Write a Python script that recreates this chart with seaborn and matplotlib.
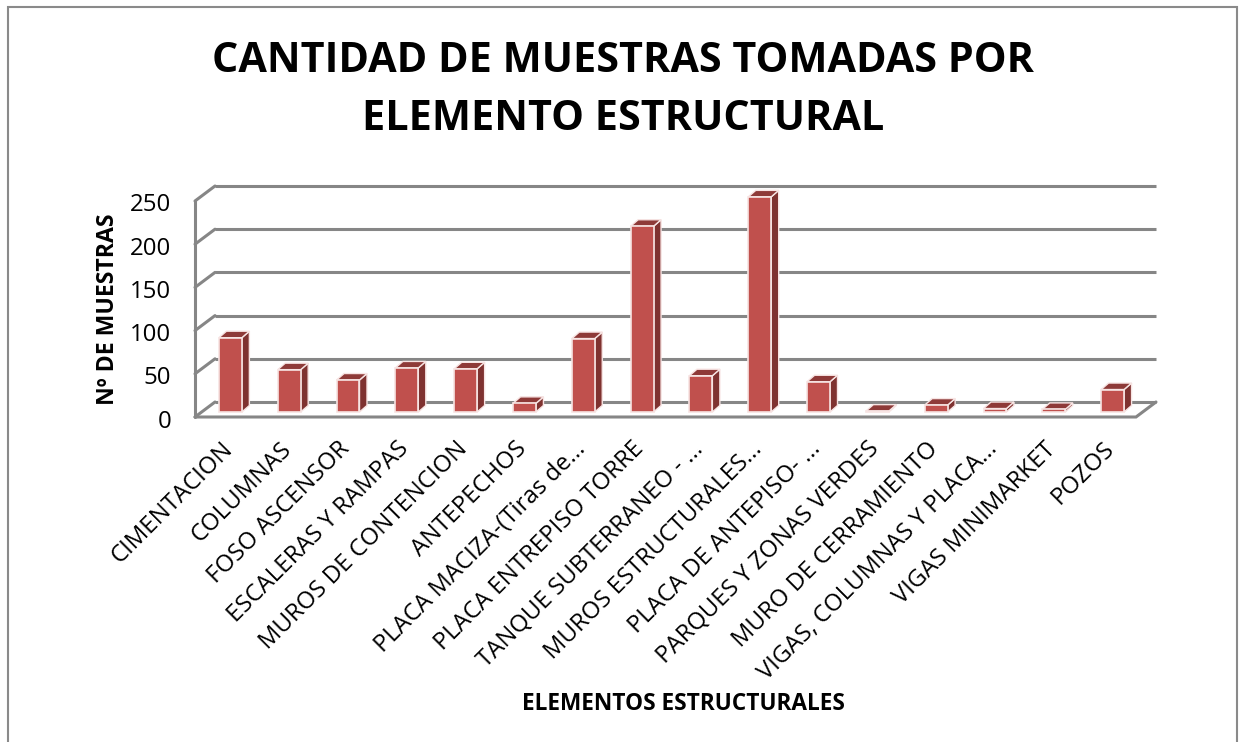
import pandas as pd
import seaborn as sns
import matplotlib.pyplot as plt
from matplotlib.patches import Polygon, Rectangle
from matplotlib.transforms import Affine2D

elementos = ['CIMENTACION', 'COLUMNAS', 'FOSO ASCENSOR', 'ESCALERAS Y RAMPAS',
             'MUROS DE CONTENCION', 'ANTEPECHOS', 'PLACA MACIZA-(Tiras de...',
             'PLACA ENTREPISO TORRE', 'TANQUE SUBTERRANEO - ...',
             'MUROS ESTRUCTURALES...', 'PLACA DE ANTEPISO- ...',
             'PARQUES Y ZONAS VERDES', 'MURO DE CERRAMIENTO',
             'VIGAS, COLUMNAS Y PLACA...', 'VIGAS MINIMARKET', 'POZOS']
muestras = [86, 49, 37, 51, 50, 10, 85, 215, 42, 249, 35, 1, 8, 4, 3, 26]
ticks_y = [0, 50, 100, 150, 200, 250]

df = pd.DataFrame({'elemento': elementos, 'muestras': muestras})

sns.set_style('white')
plt.rcParams['font.family'] = ['Open Sans', 'DejaVu Sans']
plt.rcParams['text.color'] = 'black'
plt.rcParams['xtick.color'] = 'black'
plt.rcParams['ytick.color'] = 'black'

W, H = 1239, 742
fig = plt.figure(figsize=(W / 100, H / 100), dpi=100)
# caja del area frontal en pixeles: x 195-1136, y 201-417
ax = fig.add_axes([195 / W, 1 - 417 / H, 941 / W, 216 / H])

sns.barplot(data=df, x='elemento', y='muestras', color='#C0504D', width=0.39,
            saturation=1, edgecolor='#F7E4E3', linewidth=1.2, ax=ax, zorder=5)
ax.set_xlim(-0.5, len(elementos) - 0.5)
ax.set_ylim(0, 250)
sns.despine(ax=ax, left=True, bottom=True, top=True, right=True)

# offsets 3D en pixeles
fondo = Affine2D().translate(20, 15)
barra = Affine2D().translate(6, 5)
gris = '#868686'

x0, x1 = ax.get_xlim()
for t in ticks_y:
    ax.plot([x0, x1], [t, t], color=gris, lw=2.2, clip_on=False, zorder=2,
            transform=ax.transData + fondo, solid_capstyle='butt')
    # diagonal de la pared izquierda
    a = ax.transData.transform((x0, t))
    ax.plot([a[0], a[0] + 20], [a[1], a[1] + 15], color=gris, lw=2.2,
            transform=None, clip_on=False, zorder=2)

izq = ax.transData.transform((x0, 0))
der = ax.transData.transform((x1, 0))
arriba = ax.transData.transform((x0, 250))
ax.plot([izq[0], arriba[0]], [izq[1], arriba[1]], color=gris, lw=2.2, transform=None,
        clip_on=False, zorder=3)
ax.plot([izq[0], der[0], der[0] + 20], [izq[1], der[1], der[1] + 15], color=gris, lw=2.2,
        transform=None, clip_on=False, zorder=3, solid_joinstyle='miter')

# caras laterales y superiores a partir de cada barra dibujada
dx, dy = 7.5, 6.5
for p in list(ax.patches):
    xa, ya = p.get_x(), p.get_y()
    xb, yb = xa + p.get_width(), ya + p.get_height()
    p.set_transform(ax.transData + barra)
    p.set_clip_on(False)
    (ax_, ay_), (bx_, by_) = (ax.transData + barra).transform([(xa, ya), (xb, yb)])
    lado = Polygon([(bx_, ay_), (bx_ + dx, ay_ + dy), (bx_ + dx, by_ + dy), (bx_, by_)],
                   closed=True, transform=None, facecolor='#7F3230', edgecolor='#F7E4E3',
                   lw=1, zorder=4, clip_on=False)
    tapa = Polygon([(ax_, by_), (ax_ + dx, by_ + dy), (bx_ + dx, by_ + dy), (bx_, by_)],
                   closed=True, transform=None, facecolor='#8E3A38', edgecolor='#F7E4E3',
                   lw=1, zorder=4, clip_on=False)
    ax.add_artist(lado)
    ax.add_artist(tapa)

ax.set_yticks(ticks_y)
ax.set_yticklabels([str(t) for t in ticks_y], fontsize=17.3)
ax.tick_params(axis='y', length=0, pad=17)
ax.set_xticks(range(len(elementos)))
ax.set_xticklabels(elementos, rotation=45, ha='right', rotation_mode='anchor', fontsize=17.2)
ax.tick_params(axis='x', length=0, pad=16)
ax.set_xlabel('')
ax.set_ylabel('')

# pequeños ajustes de las etiquetas en pixeles
for lab in ax.get_xticklabels():
    lab.set_transform(lab.get_transform() + Affine2D().translate(-4, 2))
for lab in ax.get_yticklabels():
    lab.set_transform(lab.get_transform() + Affine2D().translate(0, -1.5))

fig.text(623 / W, 1 - 62 / H, 'CANTIDAD DE MUESTRAS TOMADAS POR', ha='center', va='center',
         fontsize=29.8, fontweight='bold')
fig.text(623 / W, 1 - 119 / H, 'ELEMENTO ESTRUCTURAL', ha='center', va='center',
         fontsize=29.8, fontweight='bold')
fig.text(108 / W, 1 - 309 / H, 'Nº DE MUESTRAS', rotation=90, ha='center', va='center',
         fontsize=16.6, fontweight='bold')
fig.text(683 / W, 1 - 704 / H, 'ELEMENTOS ESTRUCTURALES', ha='center', va='center',
         fontsize=16.3, fontweight='bold')

# marco del grafico, recortado por abajo
fig.add_artist(Rectangle((8 / W, -0.05), (1236.5 - 8) / W, 1.05 - 7.5 / H, fill=False,
                         edgecolor='#8A8A8A', lw=1.5, transform=fig.transFigure))

fig.savefig('out.png', dpi=100)
